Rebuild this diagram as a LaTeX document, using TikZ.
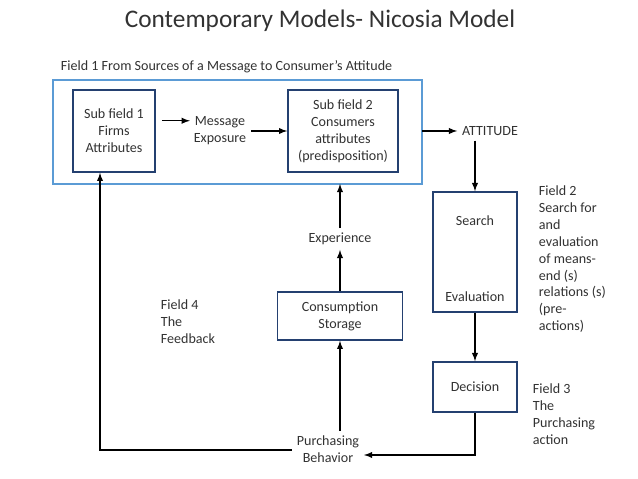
\documentclass[tikz,border=0pt]{standalone}
\usepackage{fontspec}
\setmainfont{Carlito}
\usetikzlibrary{positioning}
\definecolor{boxblue}{RGB}{36,64,112}
\definecolor{fieldblue}{RGB}{91,155,213}
\definecolor{ink}{RGB}{50,50,50}
\tikzset{
  box/.style={draw=boxblue, line width=1.2pt, align=center, font=\fontsize{10}{12}\selectfont},
  txt/.style={align=center, font=\fontsize{10}{12}\selectfont},
  ltxt/.style={align=left, anchor=north west, font=\fontsize{10}{12}\selectfont},
  flow/.style={-latex, line width=1pt}
}
\begin{document}
\begin{tikzpicture}[text=ink]
  \useasboundingbox (0,0) rectangle (15.95,11.975);
  \node[font=\fontsize{18}{21}\selectfont] (title) at (8,11.45) {Contemporary Models- Nicosia Model};
  \node[txt, anchor=west] (f1) at (1.4,10.3) {Field 1 From Sources of a Message to Consumer’s Attitude};
  % field 1
  \draw[fieldblue, line width=1.2pt] (1.325,7.375) rectangle (10.55,9.975);
  \coordinate (f1east) at (10.55,8.7);
  \coordinate (f1south) at (8.5,7.375);
  \node[box, minimum width=2.05cm, minimum height=2.05cm] (sub1) at (2.85,8.7) {Sub field 1\\Firms\\Attributes};
  \node[txt] (msg) at (5.5,8.7) {Message\\Exposure};
  \node[box, minimum width=2.75cm, minimum height=2.05cm] (sub2) at (8.575,8.7) {Sub field 2\\Consumers\\attributes\\(predisposition)};
  \node[txt] (att) at (12.25,8.7) {ATTITUDE};
  \draw[flow] (sub1.east |- msg.north) ++(0.15,-0.22) -- ++(0.7,0);
  \draw[flow] (msg.east) -- (sub2.west);
  \draw[flow] (f1east) -- (att.west);
  % field 2
  \node[box, minimum width=2.1cm, minimum height=3cm] (search) at (11.875,5.675) {};
  \node[txt] (srch) at (11.875,6.45) {Search};
  \node[txt] (eval) at (11.875,4.55) {Evaluation};
  \draw[flow] (att.south -| search.north) -- (search.north);
  \node[ltxt] (f2) at (13.35,7.45) {Field 2\\Search for\\and\\evaluation\\of means-\\end (s)\\relations (s)\\(pre-\\actions)};
  % field 3
  \node[box, minimum width=2.1cm, minimum height=1.25cm] (dec) at (11.875,2.3) {Decision};
  \node[ltxt] (f3) at (13.2,2.5) {Field 3\\The\\Purchasing\\action};
  \draw[flow] (search.south) -- (dec.north);
  \node[txt] (pb) at (8.2,0.75) {Purchasing\\Behavior};
  \coordinate (pbin) at (9.1,0.6);
  \draw[flow] (dec.south) |- (pbin);
  % field 4
  \node[box, minimum width=3.125cm, minimum height=1.2cm] (cons) at (8.5,4.075) {Consumption\\Storage};
  \node[txt] (exp) at (8.5,6.0) {Experience};
  \draw[flow] (pb.north -| cons.south) -- (cons.south);
  \draw[flow] (cons.north) -- (exp.south);
  \draw[flow] (exp.north) -- (f1south);
  \node[ltxt] (f4) at (3.9,4.6) {Field 4\\The\\Feedback};
  \coordinate (fbcorner) at (2.5,0.725);
  \draw[flow] (pb.west |- fbcorner) -- (fbcorner) -- (sub1.south -| fbcorner);
\end{tikzpicture}
\end{document}
